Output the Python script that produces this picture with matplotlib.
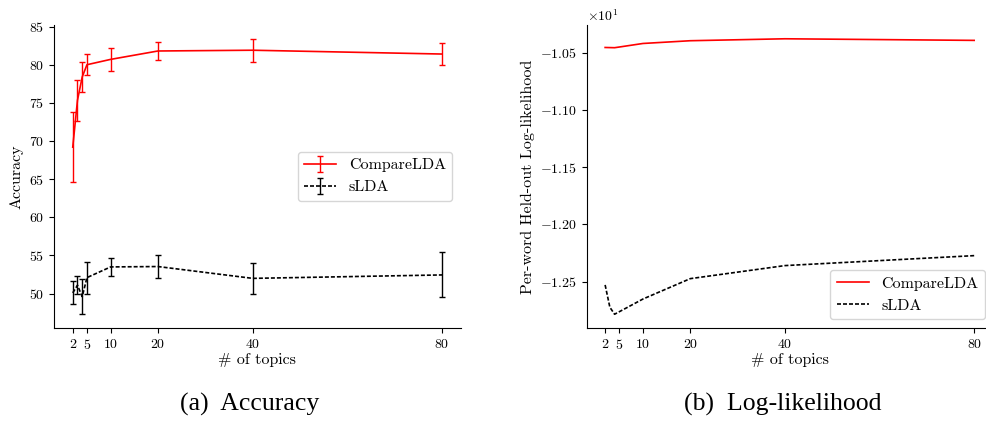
import matplotlib
matplotlib.use('Agg')
import matplotlib.pyplot as plt

plt.rcParams['font.family'] = 'serif'
plt.rcParams['font.serif'] = ['cmr10']
plt.rcParams['mathtext.fontset'] = 'cm'
plt.rcParams['axes.formatter.use_mathtext'] = True
plt.rcParams['axes.unicode_minus'] = True

# number of topics
topics = [2, 3, 4, 5, 10, 20, 40, 80]
tick_topics = [2, 5, 10, 20, 40, 80]

# (a) accuracy, mean and error
acc_compare = [69.2, 75.35, 78.4, 80.0, 80.7, 81.8, 81.9, 81.4]
acc_compare_err = [4.6, 2.7, 2.0, 1.4, 1.5, 1.2, 1.5, 1.4]
acc_slda = [50.1, 51.1, 49.6, 52.1, 53.5, 53.55, 52.0, 52.45]
acc_slda_err = [1.5, 1.2, 2.3, 2.1, 1.2, 1.5, 2.0, 2.95]

# (b) per-word held-out log-likelihood
ll_compare = [-10.454, -10.455, -10.456, -10.450, -10.419, -10.395, -10.378, -10.392]
ll_slda = [-12.529, -12.724, -12.785, -12.763, -12.652, -12.474, -12.360, -12.273]

DASH = (2.4, 1.2)

fig = plt.figure(figsize=(9.87, 4.21), dpi=100)
ax1 = fig.add_axes([0.0550, 0.2209, 0.4116, 0.7197])
ax2 = fig.add_axes([0.5944, 0.2209, 0.4113, 0.7197])

ax1.errorbar(topics, acc_compare, yerr=acc_compare_err, color='red', lw=1.2,
             elinewidth=1.0, capsize=2, label='CompareLDA')
eb = ax1.errorbar(topics, acc_slda, yerr=acc_slda_err, color='black', ls='--', lw=1.2,
                  elinewidth=1.0, capsize=2, label='sLDA')
eb.lines[0].set_dashes(DASH)
ax1.set_ylabel('Accuracy', fontsize=11.5)
ax1.legend(loc='upper right', bbox_to_anchor=(0.98, 0.582), borderaxespad=0, fontsize=11.5)

ax2.plot(topics, ll_compare, color='red', lw=1.2, label='CompareLDA')
ax2.plot(topics, ll_slda, color='black', lw=1.2, dashes=DASH, label='sLDA')
ax2.set_ylabel('Per-word Held-out Log-likelihood', fontsize=11.5)
ax2.ticklabel_format(axis='y', style='sci', scilimits=(0, 0))
ax2.set_yticks([-10.5, -11.0, -11.5, -12.0, -12.5])
ax2.legend(loc='lower right', bbox_to_anchor=(0.981, 0.029), borderaxespad=0, fontsize=11.5)

for ax in (ax1, ax2):
    ax.set_xticks(tick_topics)
    ax.set_xlabel('# of topics', fontsize=11.5, labelpad=1)
    ax.tick_params(labelsize=10)
    ax.spines['top'].set_visible(False)
    ax.spines['right'].set_visible(False)
    ax.yaxis.get_offset_text().set_fontsize(10)

fig.text(0.2533, 0.025, '(a)  Accuracy', family='Liberation Serif', fontsize=18.5, ha='center')
fig.text(0.7928, 0.025, '(b)  Log-likelihood', family='Liberation Serif', fontsize=18.5, ha='center')

fig.savefig('out.png', dpi=100)
